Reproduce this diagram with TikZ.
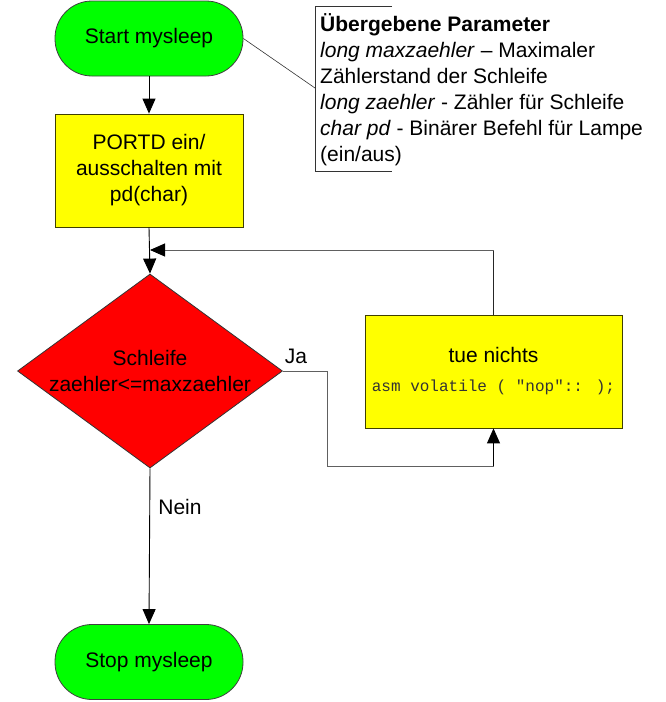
\documentclass[tikz,border=0pt]{standalone}
\usepackage{fontspec}
\setmainfont{Liberation Sans}
\newfontfamily\monofont{Liberation Mono}
\usetikzlibrary{shapes.geometric,arrows.meta}
\definecolor{termgreen}{HTML}{00FF00}
\definecolor{procyellow}{HTML}{FFFF00}
\definecolor{decred}{HTML}{FF0000}
\definecolor{olive}{HTML}{404000}
\definecolor{loopgray}{HTML}{606060}
\begin{document}
\begin{tikzpicture}[x=1pt,y=-1pt,
  font=\fontsize{21}{26}\selectfont,
  term/.style={rectangle, rounded corners=37pt, minimum width=188pt, minimum height=75pt, fill=termgreen, draw=black!75, line width=0.8pt},
  procbox/.style={rectangle, minimum width=188pt, minimum height=113pt, fill=procyellow, draw=olive, line width=0.8pt, align=center},
  actbox/.style={rectangle, minimum width=257pt, minimum height=113pt, fill=procyellow, draw=olive, line width=0.8pt, align=center},
  decbox/.style={diamond, minimum width=265pt, minimum height=194pt, inner sep=0pt, fill=decred, draw=black!80, line width=0.8pt},
  arr/.style={-{Triangle[length=15pt,width=13pt,color=black]}, line width=0.9pt, black},
  loopline/.style={line width=0.9pt, loopgray},
  plain/.style={inner sep=0pt}
]
\useasboundingbox (0,0) rectangle (665,702);

\node[term] (start) at (149,38.5) {Start mysleep};
\node[procbox] (proc) at (149,170.5) {PORTD ein/\\ausschalten mit\\pd(char)};
\node[decbox] (cond) at (150,371) {};
\node[plain, align=center] (condtext) at (150,371) {Schleife\\zaehler<=maxzaehler};
\node[actbox] (act) at (493.5,371.5) {tue nichts\\[3pt]{\monofont\fontsize{16}{16}\selectfont\color{black!80}asm volatile ( "nop":: );}};
\node[term] (stop) at (149,662) {Stop mysleep};

\node[plain] (ja) at (296,356) {Ja};
\node[plain] (nein) at (180,507) {Nein};

% annotation
\node[plain, anchor=north west, align=left] (note) at (320,13) {\textbf{Übergebene Parameter}\\\textit{long maxzaehler} – Maximaler\\Zählerstand der Schleife\\\textit{long zaehler} - Zähler für Schleife\\\textit{char pd} - Binärer Befehl für Lampe\\(ein/aus)};
\coordinate (nbt) at (392,6);
\coordinate (nbtl) at (315,6);
\coordinate (nbbl) at (315,171);
\coordinate (nbb) at (392,171);
\coordinate (nbm) at (315,88);
\draw[line width=0.8pt, black!80] (nbt) -- (nbtl) -- (nbbl) -- (nbb);
\draw[line width=0.6pt, black!80] (start.east) -- (nbm);

% connectors
\draw[arr] (start) -- (proc);
\draw[arr] (proc.south) -- (cond.north);
\coordinate (merge) at (150,250);
\coordinate (loopcorner) at (493.5,250);
\draw[line width=0.9pt, black!85] (act.north) -- (loopcorner);
\draw[loopline, -{Triangle[length=15pt,width=13pt,color=black]}] (loopcorner) -- (merge);
\coordinate (jaturn) at (327,466);
\coordinate (jaend) at (493.5,466);
\draw[loopline] (cond.east) -| (jaturn) -- (jaend);
\draw[arr] (jaend) -- (act.south);
\draw[arr] (cond.south) -- (stop.north);
\end{tikzpicture}
\end{document}
